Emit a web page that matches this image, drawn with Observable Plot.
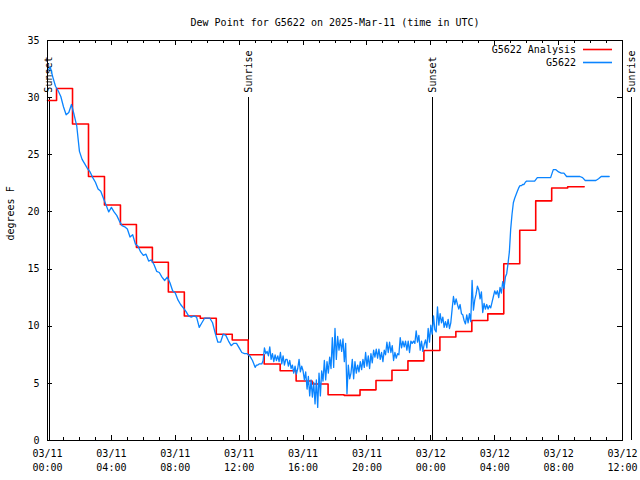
<!DOCTYPE html>
<html><head><meta charset="utf-8">
<script src="https://cdn.jsdelivr.net/npm/d3@7"></script>
<script src="https://cdn.jsdelivr.net/npm/@observablehq/plot@0.6"></script>
<style>body{margin:0;background:#fff;} svg{display:block}</style>
</head><body><div id="chart"></div>
<script>
const title = "Dew Point for G5622 on 2025-Mar-11 (time in UTC)";
const yLabel = "degrees F";
const seriesNames = ["G5622 Analysis", "G5622"];
const seriesColors = ["#ff0000", "#0a84ff"];
const xDomain = ["2025-03-11T00:00Z", "2025-03-12T12:00Z"];
const yDomain = [0, 35];
const yTicks = [0, 5, 10, 15, 20, 25, 30, 35];
const eventNames = ["Sunset", "Sunrise", "Sunset", "Sunrise"];
const eventTimes = ["2025-03-11T00:06Z", "2025-03-11T12:36Z", "2025-03-12T00:08Z", "2025-03-12T12:34Z"];
const eventTop = 30;

// Analysis (hourly step values)
const redTimes = [
  "2025-03-11T00:00Z","2025-03-11T00:34Z","2025-03-11T01:34Z","2025-03-11T02:34Z","2025-03-11T03:34Z",
  "2025-03-11T04:34Z","2025-03-11T05:34Z","2025-03-11T06:34Z","2025-03-11T07:34Z","2025-03-11T08:34Z",
  "2025-03-11T09:34Z","2025-03-11T10:34Z","2025-03-11T11:34Z","2025-03-11T12:34Z","2025-03-11T13:34Z",
  "2025-03-11T14:34Z","2025-03-11T15:34Z","2025-03-11T16:34Z","2025-03-11T17:34Z","2025-03-11T18:34Z",
  "2025-03-11T19:34Z","2025-03-11T20:34Z","2025-03-11T21:34Z","2025-03-11T22:34Z","2025-03-11T23:34Z",
  "2025-03-12T00:34Z","2025-03-12T01:34Z","2025-03-12T02:34Z","2025-03-12T03:34Z","2025-03-12T04:34Z",
  "2025-03-12T05:34Z","2025-03-12T06:34Z","2025-03-12T07:34Z","2025-03-12T08:34Z","2025-03-12T09:36Z"
];
const redValues = [
  29.75, 30.8, 27.7, 23.1, 20.6, 18.9, 16.9, 15.6, 13.0, 10.9,
  10.7, 9.3, 8.8, 7.5, 6.7, 6.1, 5.2, 4.95, 4.0, 3.95,
  4.43, 5.25, 6.15, 6.97, 7.87, 9.05, 9.54, 10.5, 11.08, 15.46,
  18.4, 20.97, 22.1, 22.2, 22.2
];

// Observations: three runs, each with a start time and sample step (minutes)
const blueAStart = "2025-03-11T00:00Z", blueAStepMin = 10;
const blueA = [
  32.3, 32.7, 31.8, 31.0, 30.6, 30.1,
  29.2, 28.5, 28.7, 29.4, 28.5, 27.5,
  25.3, 24.6, 24.2, 23.8, 23.5, 23.0,
  22.6, 22.0, 21.8, 21.2, 20.6, 20.0,
  20.4, 20.0, 19.7, 19.2, 18.8, 18.7,
  18.5, 17.8, 18.0, 17.2, 17.0, 16.5,
  16.2, 16.3, 15.7, 15.8, 15.4, 14.8,
  14.7, 14.3, 14.0, 14.3, 13.8, 13.1,
  12.9, 12.3, 11.9, 11.6, 11.3, 10.9,
  10.8, 10.9, 10.8, 9.9, 10.3, 10.7,
  10.7, 10.7, 10.3, 9.4, 8.6, 8.6,
  9.3, 9.2, 8.7, 8.3, 8.5, 8.5,
  8.1, 7.7, 7.6, 7.6, 7.4, 7.0
];
const blueBStart = "2025-03-11T13:00Z", blueBStepMin = 5;
const blueB = [
  6.4, 6.6, 6.6, 6.7, 6.7, 6.7, 7.0, 8.1, 7.6, 7.8, 7.4, 8.2,
  7.1, 7.6, 6.9, 7.5, 7.0, 7.4, 6.9, 7.7, 6.7, 7.4, 6.6, 7.1,
  7.1, 6.5, 7.0, 6.3, 6.6, 5.9, 6.5, 5.8, 6.3, 7.1, 6.0, 6.5,
  6.1, 5.3, 6.0, 4.5, 5.6, 3.9, 5.3, 3.8, 5.1, 3.2, 5.3, 2.9,
  5.9, 3.9, 6.1, 5.2, 7.0, 5.3, 6.9, 5.9, 7.3, 6.3, 9.0, 6.4,
  9.8, 7.1, 9.1, 7.9, 8.8, 7.8, 8.9, 6.9, 8.5, 4.1, 6.6, 5.4,
  5.9, 7.1, 5.4, 6.9, 5.9, 6.6, 6.0, 6.9, 6.2, 7.1, 6.4, 7.7,
  6.5, 7.4, 6.3, 7.6, 6.8, 7.9, 7.3, 8.0, 7.2, 8.0, 7.1, 7.7,
  6.9, 7.9, 7.5, 8.6, 7.7, 8.6, 7.7, 8.3, 7.0, 7.7, 7.2, 7.6,
  7.5, 9.0, 8.1, 8.7, 8.2, 8.7, 7.9, 8.7, 7.7, 8.7, 8.5, 8.7,
  8.5, 9.6, 8.6, 9.2, 7.9, 8.7, 7.8, 8.4, 8.8, 8.1, 9.8, 8.6,
  10.1, 9.3, 10.9, 9.7, 9.5, 11.7, 10.1, 11.1, 10.3, 10.8, 9.9, 10.4,
  9.9, 10.6, 9.8, 10.3, 11.5, 12.6, 11.9, 12.4, 11.9, 11.5, 11.9, 11.1,
  11.0, 10.5, 10.2, 11.0, 10.3, 11.1, 10.4, 14.0, 11.4, 12.3, 12.8, 13.5,
  13.2, 12.4, 13.0, 11.2, 12.0, 11.5, 11.9, 11.5, 11.8, 11.6, 12.1, 12.6,
  13.1, 12.8, 13.1, 12.5, 13.4, 12.9, 13.9, 13.3, 14.3, 14.6, 15.5, 16.5,
  18.5, 19.8, 20.8, 21.2, 21.5, 21.8, 22.1, 22.3, 22.3, 22.4, 22.4, 22.6
];
const blueCStart = "2025-03-12T06:00Z", blueCStepMin = 10;
const blueC = [
  22.7, 22.7, 22.7, 22.7, 23.0, 23.0,
  23.0, 23.0, 23.0, 23.0, 23.7, 23.7,
  23.5, 23.4, 23.4, 23.1, 23.1, 23.1,
  23.1, 23.1, 23.1, 23.0, 22.75, 22.75,
  22.75, 22.75, 22.75, 22.9, 23.1, 23.1,
  23.1, 23.1
];

const MIN = 60e3;
const run = (start, step, vals) => vals.map((v, i) => ({t: new Date(+new Date(start) + i * step * MIN), v}));
const blue = [...run(blueAStart, blueAStepMin, blueA), ...run(blueBStart, blueBStepMin, blueB), ...run(blueCStart, blueCStepMin, blueC)];
const red = redTimes.map((s, i) => ({t: new Date(s), v: redValues[i]}));
const events = eventTimes.map((s, i) => ({t: new Date(s), name: eventNames[i]}));

const x0 = new Date(xDomain[0]), x1 = new Date(xDomain[1]);
const xMajor = d3.utcHour.every(4).range(x0, new Date(+x1 + 1));
const xMinor = d3.utcHour.range(x0, new Date(+x1 + 1)).filter(d => d.getUTCHours() % 4 !== 0);
const fmt = d => d3.utcFormat("%m/%d")(d) + "\n" + d3.utcFormat("%H:%M")(d);

const W = 640, H = 480, mL = 47, mR = 18, mT = 40, mB = 40;
const fw = W - mL - mR, fh = H - mT - mB;
const font = "DejaVu Sans Mono";

const chart = Plot.plot({
  width: W, height: H,
  marginLeft: mL, marginRight: mR, marginTop: mT, marginBottom: mB,
  style: {fontFamily: font, fontSize: "10px", background: "white", color: "black"},
  x: {type: "utc", domain: [x0, x1], label: null},
  y: {domain: yDomain, label: null},
  marks: [
    Plot.ruleX(events, {x: "t", y1: 0, y2: eventTop, stroke: "black", strokeWidth: 1, shapeRendering: "crispEdges"}),
    Plot.text(events, {x: "t", y: eventTop, text: "name", rotate: -90, textAnchor: "start", dy: -5, fill: "black"}),
    Plot.line(red, {x: "t", y: "v", curve: "step-after", stroke: seriesColors[0], strokeWidth: 1.6}),
    Plot.line(blue, {x: "t", y: "v", stroke: seriesColors[1], strokeWidth: 1.3}),
    Plot.frame({stroke: "black", shapeRendering: "crispEdges"}),
    Plot.ruleX(xMajor, {insetTop: fh - 5, stroke: "black", shapeRendering: "crispEdges"}),
    Plot.ruleX(xMajor, {insetBottom: fh - 5, stroke: "black", shapeRendering: "crispEdges"}),
    Plot.ruleX(xMinor, {insetTop: fh - 3, stroke: "black", shapeRendering: "crispEdges"}),
    Plot.ruleX(xMinor, {insetBottom: fh - 3, stroke: "black", shapeRendering: "crispEdges"}),
    Plot.ruleY(yTicks, {insetRight: fw - 5, stroke: "black", shapeRendering: "crispEdges"}),
    Plot.ruleY(yTicks, {insetLeft: fw - 5, stroke: "black", shapeRendering: "crispEdges"}),
    Plot.axisX(xMajor, {tickSize: 0, tickPadding: 7, tickFormat: fmt, lineHeight: 1.35, label: null}),
    Plot.axisY(yTicks, {tickSize: 0, tickPadding: 8, label: null}),
    Plot.text([title], {frameAnchor: "top", dy: -22, text: d => d}),
    Plot.text([yLabel], {frameAnchor: "left", dx: -37, rotate: -90, text: d => d})
  ]
});
document.getElementById("chart").appendChild(chart);

// legend (top right, inside frame)
const svg = d3.select(chart);
const lg = svg.append("g").attr("font-family", font).attr("font-size", 10);
seriesNames.forEach((name, i) => {
  const y = mT + 9.5 + i * 13;
  lg.append("text").attr("x", W - mR - 46).attr("y", y).attr("dy", "0.32em")
    .attr("text-anchor", "end").attr("fill", "black").text(name);
  lg.append("line").attr("x1", W - mR - 39).attr("x2", W - mR - 10).attr("y1", y).attr("y2", y)
    .attr("stroke", seriesColors[i]).attr("stroke-width", 1.6);
});
</script>
</body></html>
